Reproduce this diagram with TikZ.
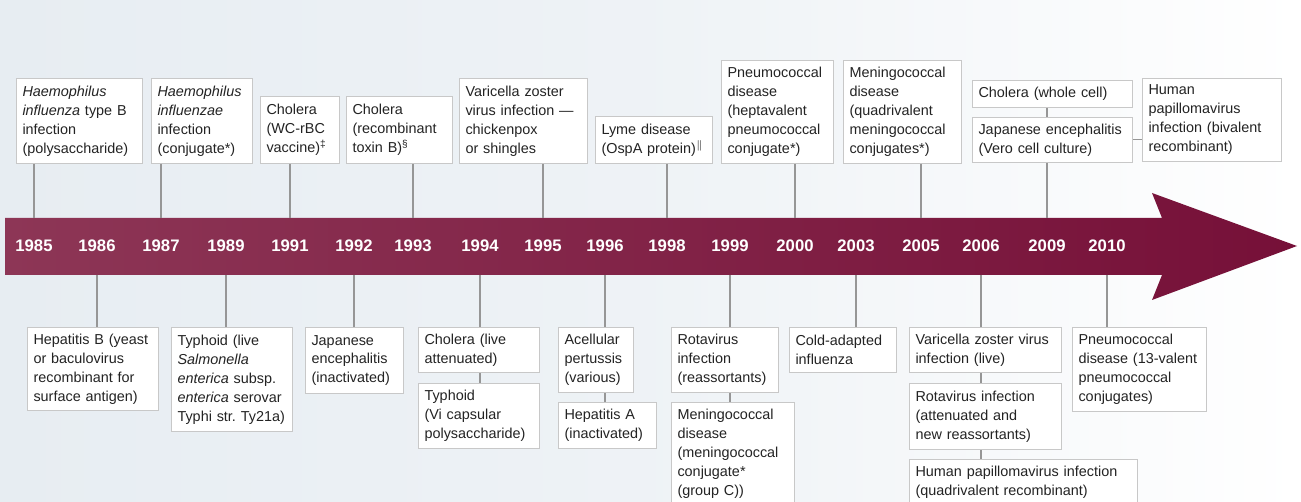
\documentclass[tikz,border=0pt]{standalone}
\usepackage{fontspec}
\setmainfont{Liberation Sans}
\usepackage{tikz}
\usetikzlibrary{positioning, calc}
\definecolor{bandlight}{RGB}{141,54,86}
\definecolor{banddark}{RGB}{118,16,56}
\definecolor{bgblue}{RGB}{231,237,242}
\definecolor{boxline}{RGB}{200,200,200}
\definecolor{stemgray}{RGB}{150,150,150}
\definecolor{inkgray}{RGB}{35,35,35}

\begin{document}
\begin{tikzpicture}[
    x=0.02cm, y=-0.02cm,
    box/.style={draw=boxline, fill=white, line width=0.6pt, align=left, text=inkgray,
        font=\fontsize{8.2}{10.8}\selectfont, inner xsep=0.12cm, inner ysep=0pt},
    topbox/.style={box, anchor=south west},
    botbox/.style={box, anchor=north west},
    stem/.style={draw=stemgray, line width=0.6pt},
    yr/.style={font=\fontsize{9.5}{11}\selectfont\bfseries, text=white}
]
\useasboundingbox (0,0) rectangle (1301,502);
\clip (0,0) rectangle (1301,502);
\shade[left color=bgblue, right color=white, middle color=bgblue!70] (0,0) rectangle (1301,502);

% Timeline arrow
\shade[left color=bandlight, right color=banddark]
    (5,218) -- (1162,218) -- (1152,193) -- (1297,246) -- (1152,300) -- (1162,275) -- (5,275) -- cycle;
\coordinate (bandN) at (0,218);
\coordinate (bandS) at (0,275);

\foreach \yr/\xx in {1985/34, 1986/97, 1987/161, 1989/226, 1991/290, 1992/354, 1993/413,
    1994/480, 1995/543, 1996/605, 1998/667, 1999/730, 2000/795, 2003/856, 2005/921,
    2006/981, 2009/1047, 2010/1107}
    \node[yr] (y\yr) at (\xx,246) {\yr};

% Above the arrow
\node[topbox, text width=2.28cm, minimum height=1.70cm] (hib) at (16,164)
    {\textit{Haemophilus}\\ \textit{influenza} type B\\ infection\\ (polysaccharide)};
\node[topbox, text width=1.78cm, minimum height=1.70cm] (hibconj) at (151,164)
    {\textit{Haemophilus}\\ \textit{influenzae}\\ infection\\ (conjugate*)};
\node[topbox, text width=1.34cm, minimum height=1.34cm] (cholwc) at (260,164)
    {Cholera\\ (WC-rBC\\ vaccine)\textsuperscript{‡}};
\node[topbox, text width=1.88cm, minimum height=1.34cm] (cholrt) at (346,164)
    {Cholera\\ (recombinant\\ toxin B)\textsuperscript{§}};
\node[topbox, text width=2.32cm, minimum height=1.70cm] (vzv) at (459,164)
    {Varicella zoster\\ virus infection ---\\ chickenpox\\ or shingles};
\node[topbox, text width=2.10cm, minimum height=0.94cm] (lyme) at (595,164)
    {Lyme disease\\ (OspA protein)\textsuperscript{$\|$}};
\node[topbox, text width=2.00cm, minimum height=2.06cm] (pcvsev) at (721,164)
    {Pneumococcal\\ disease\\ (heptavalent\\ pneumococcal\\ conjugate*)};
\node[topbox, text width=2.12cm, minimum height=2.06cm] (menquad) at (843,164)
    {Meningococcal\\ disease\\ (quadrivalent\\ meningococcal\\ conjugates*)};
\node[topbox, text width=2.96cm, minimum height=0.54cm] (cholcell) at (972,108)
    {Cholera (whole cell)};
\node[topbox, text width=2.96cm, minimum height=0.90cm] (jevero) at (972,163)
    {Japanese encephalitis\\ (Vero cell culture)};
\node[topbox, text width=2.54cm, minimum height=1.66cm] (hpvbi) at (1142,162)
    {Human\\ papillomavirus\\ infection (bivalent\\ recombinant)};

% Below the arrow
\node[botbox, text width=2.38cm, minimum height=1.66cm] (hepb) at (27,327)
    {Hepatitis B (yeast\\ or baculovirus\\ recombinant for\\ surface antigen)};
\node[botbox, text width=2.18cm, minimum height=2.08cm] (typhlive) at (171,327)
    {Typhoid (live\\ \textit{Salmonella}\\ \textit{enterica} subsp.\\ \textit{enterica} serovar\\ Typhi str.~Ty21a)};
\node[botbox, text width=1.72cm, minimum height=1.32cm] (jeinact) at (305,327)
    {Japanese\\ encephalitis\\ (inactivated)};
\node[botbox, text width=2.18cm, minimum height=0.90cm] (chollive) at (418,327)
    {Cholera (live\\ attenuated)};
\node[botbox, text width=2.18cm, minimum height=1.30cm] (typhvi) at (418,383)
    {Typhoid\\ (Vi capsular\\ polysaccharide)};
\node[botbox, text width=1.26cm, minimum height=1.30cm] (acell) at (558,327)
    {Acellular\\ pertussis\\ (various)};
\node[botbox, text width=1.72cm, minimum height=0.92cm] (hepa) at (558,402)
    {Hepatitis A\\ (inactivated)};
\node[botbox, text width=1.90cm, minimum height=1.30cm] (rota) at (671,327)
    {Rotavirus\\ infection\\ (reassortants)};
\node[botbox, text width=2.22cm, minimum height=2.06cm] (menc) at (671,402)
    {Meningococcal\\ disease\\ (meningococcal\\ conjugate*\\ (group C))};
\node[botbox, text width=1.90cm, minimum height=0.90cm] (coldflu) at (789,327)
    {Cold-adapted\\ influenza};
\node[botbox, text width=2.80cm, minimum height=0.90cm] (vzvlive) at (909,327)
    {Varicella zoster virus\\ infection (live)};
\node[botbox, text width=2.80cm, minimum height=1.32cm] (rotanew) at (909,383)
    {Rotavirus infection\\ (attenuated and\\ new reassortants)};
\node[botbox, text width=4.32cm, minimum height=0.92cm] (hpvquad) at (909,459)
    {Human papillomavirus infection\\ (quadrivalent recombinant)};
\node[botbox, text width=2.44cm, minimum height=1.68cm] (pcvthirteen) at (1072,327)
    {Pneumococcal\\ disease (13-valent\\ pneumococcal\\ conjugates)};

% Stems up
\draw[stem] (y1985 |- hib.south) -- (y1985 |- bandN);
\draw[stem] (y1987 |- hibconj.south) -- (y1987 |- bandN);
\draw[stem] (y1991 |- cholwc.south) -- (y1991 |- bandN);
\draw[stem] (y1993 |- cholrt.south) -- (y1993 |- bandN);
\draw[stem] (y1995 |- vzv.south) -- (y1995 |- bandN);
\draw[stem] (y1998 |- lyme.south) -- (y1998 |- bandN);
\draw[stem] (y2000 |- pcvsev.south) -- (y2000 |- bandN);
\draw[stem] (y2005 |- menquad.south) -- (y2005 |- bandN);
\draw[stem] (y2009 |- cholcell.south) -- (y2009 |- jevero.north);
\draw[stem] (y2009 |- jevero.south) -- (y2009 |- bandN);
\draw[stem] (jevero.east) -- (hpvbi.west |- jevero.east);

% Stems down
\draw[stem] (y1986 |- bandS) -- (y1986 |- hepb.north);
\draw[stem] (y1989 |- bandS) -- (y1989 |- typhlive.north);
\draw[stem] (y1992 |- bandS) -- (y1992 |- jeinact.north);
\draw[stem] (y1994 |- bandS) -- (y1994 |- chollive.north);
\draw[stem] (y1994 |- chollive.south) -- (y1994 |- typhvi.north);
\draw[stem] (y1996 |- bandS) -- (y1996 |- acell.north);
\draw[stem] (y1996 |- acell.south) -- (y1996 |- hepa.north);
\draw[stem] (y1999 |- bandS) -- (y1999 |- rota.north);
\draw[stem] (y1999 |- rota.south) -- (y1999 |- menc.north);
\draw[stem] (y2003 |- bandS) -- (y2003 |- coldflu.north);
\draw[stem] (y2006 |- bandS) -- (y2006 |- vzvlive.north);
\draw[stem] (y2006 |- vzvlive.south) -- (y2006 |- rotanew.north);
\draw[stem] (y2006 |- rotanew.south) -- (y2006 |- hpvquad.north);
\draw[stem] (y2010 |- bandS) -- (y2010 |- pcvthirteen.north);
\end{tikzpicture}
\end{document}
